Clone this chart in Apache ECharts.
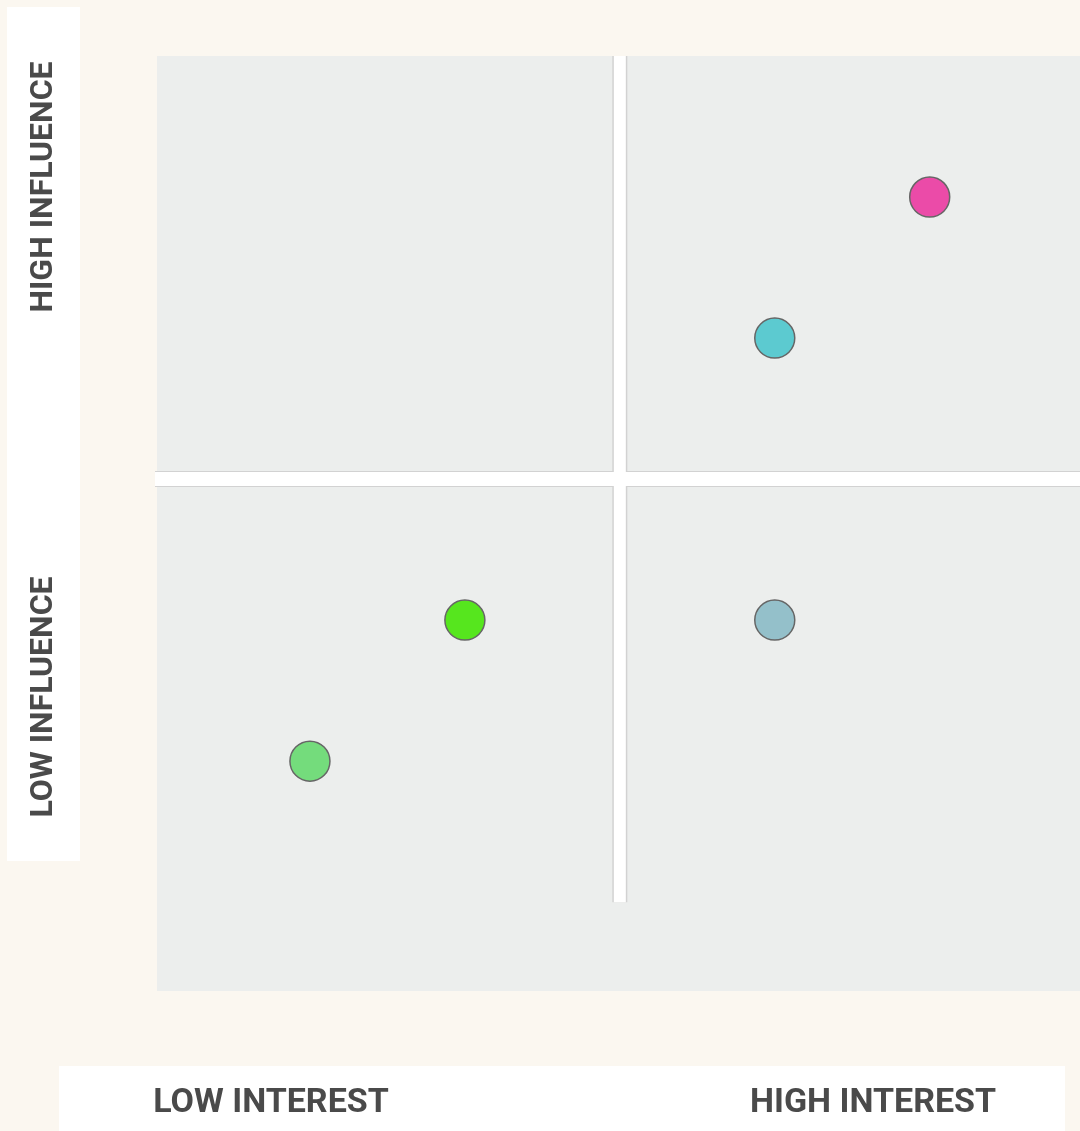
<!DOCTYPE html>
<html><head><meta charset="utf-8">
<script src="https://cdn.jsdelivr.net/npm/echarts@6/dist/echarts.min.js"></script>
<style>html,body{margin:0;padding:0;background:#fbf7f0}#c{width:1080px;height:1131px}</style>
</head><body><div id="c"></div>
<script>
// ---- data ----
const xLabels = ['LOW INTEREST', 'HIGH INTEREST'];
const yLabels = ['HIGH INFLUENCE', 'LOW INFLUENCE'];
const interest  = [5, 4, 2, 1, 4];
const influence = [5, 4, 2, 1, 2];
const pointColors = ['#eb4ba8', '#5ccad0', '#56e61e', '#74dc7c', '#94c0ca'];
const X_MIN = 0, X_MAX = 5.97, Y_MIN = -0.63, Y_MAX = 6, MID = 3;

// ---- layout ----
const GRID = {left: 155, top: 56, right: 0, height: 935};
const pxX = (1080 - GRID.left - GRID.right) / (X_MAX - X_MIN);
const pxY = GRID.height / (Y_MAX - Y_MIN);

function area(x1, x2, y1, y2) { return [{xAxis: x1, yAxis: y1}, {xAxis: x2, yAxis: y2}]; }

const chart = echarts.init(document.getElementById('c'), null, {renderer: 'canvas'});
const font = 'Roboto, "Liberation Sans", sans-serif';
chart.setOption({
  backgroundColor: '#fbf7f0',
  animation: false,
  grid: {left: GRID.left, top: GRID.top, right: GRID.right, height: GRID.height, show: false},
  xAxis: {type: 'value', min: X_MIN, max: X_MAX, show: false},
  yAxis: {type: 'value', min: Y_MIN, max: Y_MAX, show: false},
  series: [
    {type: 'scatter', data: [], silent: true,
     markArea: {silent: true, itemStyle: {color: '#eceeed'},
       data: [area(X_MIN + 2 / pxX, X_MAX, Y_MIN, Y_MAX)]}},
    {type: 'scatter', data: [], silent: true,
     markArea: {silent: true, itemStyle: {color: '#d2d2d2'},
       data: [area(X_MIN - 1 / pxX, X_MAX, MID - 8 / pxY, MID + 8 / pxY),
              area(MID - 7.5 / pxX, MID + 7.5 / pxX, 0, Y_MAX)]}},
    {type: 'scatter', data: [], silent: true,
     markArea: {silent: true, itemStyle: {color: '#ffffff'},
       data: [area(X_MIN - 1 / pxX, X_MAX, MID - 7 / pxY, MID + 7 / pxY),
              area(MID - 6 / pxX, MID + 6 / pxX, 0, Y_MAX)]}},
    {type: 'scatter', symbolSize: 40,
     itemStyle: {borderColor: '#666666', borderWidth: 1.5, opacity: 1},
     data: interest.map((v, i) => ({value: [v, influence[i]], itemStyle: {color: pointColors[i]}}))}
  ],
  graphic: [
    {type: 'rect', shape: {x: 7, y: 7, width: 73, height: 854}, style: {fill: '#ffffff'}, z: -1},
    {type: 'rect', shape: {x: 59, y: 1066, width: 1006, height: 65}, style: {fill: '#ffffff'}, z: -1},
    {type: 'text', x: 44, y: 187, rotation: Math.PI / 2,
     style: {text: yLabels[0], font: 'bold 32px ' + font, fill: '#4a4a4a', textAlign: 'center', textVerticalAlign: 'middle'}},
    {type: 'text', x: 44, y: 697, rotation: Math.PI / 2,
     style: {text: yLabels[1], font: 'bold 32px ' + font, fill: '#4a4a4a', textAlign: 'center', textVerticalAlign: 'middle'}},
    {type: 'text', x: 271, y: 1103,
     style: {text: xLabels[0], font: 'bold 34px ' + font, fill: '#4a4a4a', textAlign: 'center', textVerticalAlign: 'middle'}},
    {type: 'text', x: 873, y: 1103,
     style: {text: xLabels[1], font: 'bold 34px ' + font, fill: '#4a4a4a', textAlign: 'center', textVerticalAlign: 'middle'}}
  ]
});
</script></body></html>
